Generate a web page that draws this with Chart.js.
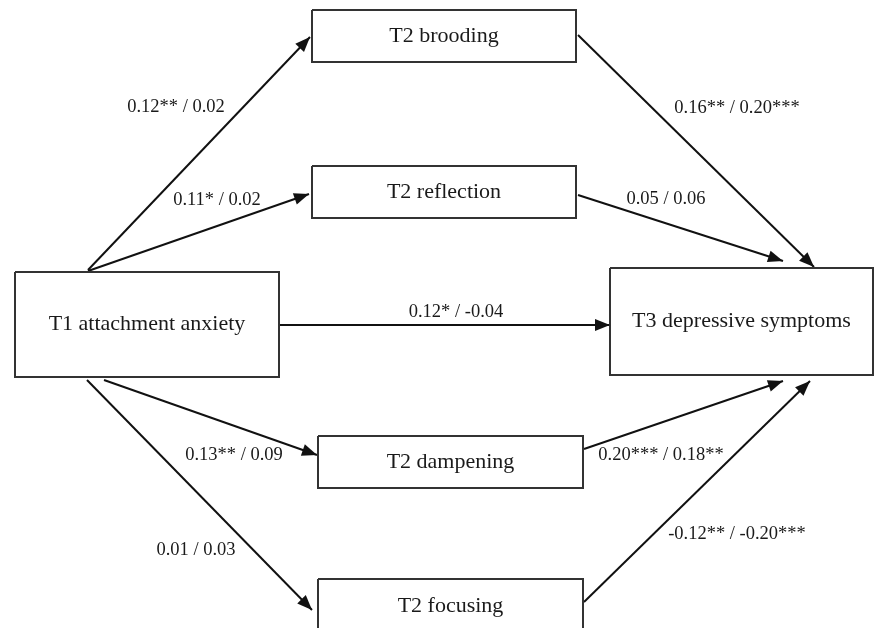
<!DOCTYPE html>
<html lang="en">
<head>
  <meta charset="UTF-8">
  <title>Attachment anxiety, rumination and depressive symptoms</title>
  <script src="https://cdn.jsdelivr.net/npm/chart.js"></script>
  <style>
    body { margin: 0; background: #fff; }
    canvas { display: block; }
  </style>
</head>
<body>
  <canvas id="pathChart" width="874" height="628"></canvas>

  <script>
    // variables (boxes)
    const nodes = ['T1 attachment anxiety', 'T2 brooding', 'T2 reflection', 'T2 dampening', 'T2 focusing', 'T3 depressive symptoms'];

    // paths: from -> to, coefficient before / after slash
    const pathFrom = [0, 0, 0, 0, 0, 1, 2, 3, 4];
    const pathTo   = [1, 2, 5, 3, 4, 5, 5, 5, 5];
    const coefA = ['0.12**', '0.11*', '0.12*', '0.13**', '0.01', '0.16**', '0.05', '0.20***', '-0.12**'];
    const coefB = ['0.02', '0.02', '-0.04', '0.09', '0.03', '0.20***', '0.06', '0.18**', '-0.20***'];

    // layout in the chart's own coordinate system (x 0..874, y 0..628 top-down)
    const boxLayout = [
      [15, 272, 279, 377],
      [312, 10, 576, 62],
      [312, 166, 576, 218],
      [318, 436, 583, 488],
      [318, 579, 583, 631],
      [610, 268, 873, 375]
    ];
    const arrowLayout = [
      [88, 270, 310, 37],
      [88, 271, 309, 194],
      [279, 325, 610, 325],
      [104, 380, 317, 455],
      [87, 380, 312, 610],
      [578, 35, 814, 267],
      [578, 195, 783, 261],
      [584, 449, 783, 381],
      [584, 602, 810, 381]
    ];
    const labelLayout = [
      [176, 107], [217, 200], [456, 312], [234, 455], [196, 550],
      [737, 108], [666, 199], [661, 455], [737, 534]
    ];

    const FONT = '"Liberation Serif", "Times New Roman", serif';

    const datasets = [];
    boxLayout.forEach(b => {
      datasets.push({
        data: [{x: b[0], y: b[1]}, {x: b[2], y: b[1]}, {x: b[2], y: b[3]}, {x: b[0], y: b[3]}, {x: b[0], y: b[1]}],
        showLine: true, borderColor: '#333', borderWidth: 2, pointRadius: 0, tension: 0
      });
    });
    arrowLayout.forEach(a => {
      datasets.push({
        data: [{x: a[0], y: a[1]}, {x: a[2], y: a[3]}],
        showLine: true, borderColor: '#111', borderWidth: 2, pointRadius: 0, tension: 0
      });
    });

    // arrowheads and texts
    const diagramPlugin = {
      id: 'diagram',
      afterDatasetsDraw(chart) {
        const ctx = chart.ctx;
        const xs = chart.scales.x, ys = chart.scales.y;
        ctx.save();
        // arrowheads
        ctx.fillStyle = '#111';
        arrowLayout.forEach(a => {
          const x0 = xs.getPixelForValue(a[0]), y0 = ys.getPixelForValue(a[1]);
          const x1 = xs.getPixelForValue(a[2]), y1 = ys.getPixelForValue(a[3]);
          const ang = Math.atan2(y1 - y0, x1 - x0);
          const len = 15, half = 6;
          ctx.beginPath();
          ctx.moveTo(x1, y1);
          ctx.lineTo(x1 - len * Math.cos(ang) + half * Math.sin(ang), y1 - len * Math.sin(ang) - half * Math.cos(ang));
          ctx.lineTo(x1 - len * Math.cos(ang) - half * Math.sin(ang), y1 - len * Math.sin(ang) + half * Math.cos(ang));
          ctx.closePath();
          ctx.fill();
        });
        // box texts
        ctx.fillStyle = '#1a1a1a';
        ctx.textAlign = 'center';
        ctx.textBaseline = 'middle';
        ctx.font = '22px ' + FONT;
        nodes.forEach((n, i) => {
          const b = boxLayout[i];
          let cy = (b[1] + b[3]) / 2;
          if (i === 4) cy = 606;
          ctx.fillText(n, xs.getPixelForValue((b[0] + b[2]) / 2), ys.getPixelForValue(cy));
        });
        // coefficient labels
        ctx.font = '18.5px ' + FONT;
        pathFrom.forEach((f, i) => {
          const p = labelLayout[i];
          ctx.fillText(coefA[i] + ' / ' + coefB[i], xs.getPixelForValue(p[0]), ys.getPixelForValue(p[1]));
        });
        ctx.restore();
      }
    };

    new Chart(document.getElementById('pathChart'), {
      type: 'scatter',
      data: { datasets: datasets },
      options: {
        responsive: false,
        animation: false,
        layout: { padding: 0 },
        plugins: { legend: { display: false }, tooltip: { enabled: false } },
        scales: {
          x: { type: 'linear', min: 0, max: 874, display: false },
          y: { type: 'linear', min: 0, max: 628, reverse: true, display: false }
        }
      },
      plugins: [diagramPlugin]
    });
  </script>
</body>
</html>
